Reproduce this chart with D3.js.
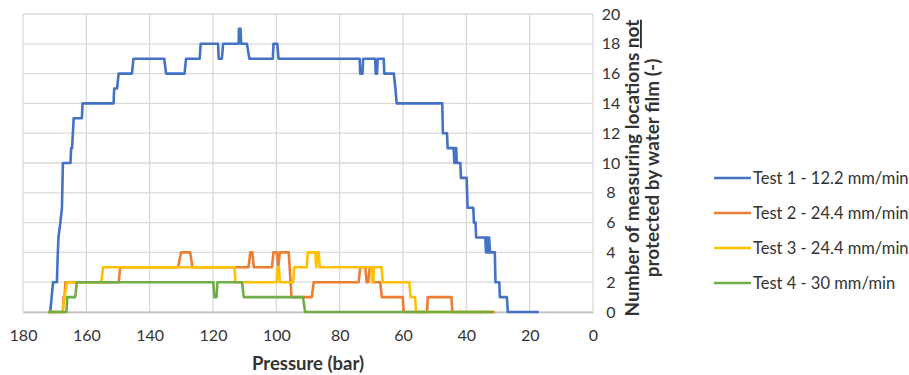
<!DOCTYPE html>
<html>
<head>
<meta charset="utf-8">
<script src="https://cdn.jsdelivr.net/npm/d3@7"></script>
<style>
  body { margin: 0; background: #fff; }
  svg { font-family: Lato, "Open Sans", sans-serif; }
</style>
</head>
<body>
<div id="chart"></div>
<script>
// [pressure (bar), count]
var test1 = [[172.0,0],[171.4,0],[170.5,2],[169.3,2],[169.0,4],[168.8,5],[168.2,6],[167.7,7],[167.4,10],
  [165.0,10],[164.8,11],[164.5,11],[164.0,13],[161.4,13],[161.2,14],[151.4,14],[151.2,15],[150.3,15],
  [149.8,16],[145.6,16],[145.1,17],[135.4,17],[134.8,16],[129.0,16],[128.5,17],[124.2,17],[123.9,18],
  [118.4,18],[118.2,17],[117.2,17],[116.8,18],[111.9,18],[111.8,19],[111.3,19],[111.1,18],[109.3,18],
  [108.5,17],[101.1,17],[100.9,18],[99.7,18],[99.3,17],[73.7,17],[73.5,16],[72.8,16],[72.6,17],
  [68.8,17],[68.6,16],[68.2,16],[68.0,17],[66.1,17],[65.9,16],[62.9,16],[62.4,15],[62.0,14],
  [47.6,14],[47.4,12],[46.1,12],[45.9,11],[44.0,11],[43.8,10],[43.6,11],[43.4,10],[43.2,11],[43.0,10],
  [41.9,10],[41.7,9],[39.9,9],[39.6,7],[37.8,7],[37.6,6],[37.1,6],[36.9,5],[34.0,5],[33.8,4],[33.6,5],
  [33.4,4],[33.2,5],[33.0,4],[32.8,5],[32.5,4],[31.0,4],[30.8,2],[29.6,2],[29.4,1],[27.2,1],[26.9,0],[17.1,0]];

var test2 = [[172.0,0],[167.4,0],[167.2,1],[166.9,1],[166.6,2],[149.8,2],[149.3,3],[131.0,3],[130.1,4],
  [127.2,4],[126.5,3],[108.8,3],[108.2,4],[107.6,4],[107.1,3],[101.4,3],[100.9,4],[99.8,4],[99.4,3],
  [98.9,4],[96.1,4],[95.2,1],[88.8,1],[88.2,2],[74.0,2],[73.5,3],[71.9,3],[71.5,2],[71.0,2],[70.5,3],
  [69.8,3],[69.4,2],[67.2,2],[66.7,1],[60.1,1],[59.8,0],[52.4,0],[52.2,1],[44.7,1],[44.4,0],[31.0,0]];

var test3 = [[172.0,0],[167.6,0],[166.1,2],[155.3,2],[154.7,3],[113.2,3],[112.9,2],[99.9,2],[99.6,3],
  [99.2,3],[98.9,2],[94.7,2],[94.4,3],[90.4,3],[90.1,4],[87.7,4],[87.4,3],[87.1,4],[86.6,4],[86.3,3],
  [70.0,3],[69.8,2],[69.4,2],[69.2,3],[66.8,3],[66.4,2],[58.0,2],[57.6,1],[56.2,1],[55.9,0],[31.5,0]];

var test4 = [[172.0,0],[166.3,0],[166.0,1],[163.5,1],[163.0,2],[119.9,2],[119.6,1],[118.9,1],[118.6,2],
  [110.8,2],[110.3,1],[91.6,1],[90.9,0],[31.5,0]];

var seriesNames = ["Test 1 - 12.2 mm/min", "Test 2 - 24.4 mm/min", "Test 3 - 24.4 mm/min", "Test 4 - 30 mm/min"];
var seriesColors = ["#4472C4", "#ED7D31", "#FFC000", "#70AD47"];
var xTicks = [180, 160, 140, 120, 100, 80, 60, 40, 20, 0];
var yTicks = [0, 2, 4, 6, 8, 10, 12, 14, 16, 18, 20];

var svgWidth = 909, svgHeight = 375;
var plotLeft = 23, plotRight = 593, plotTop = 14, plotBottom = 312;

var svg = d3.select('#chart').append('svg')
    .attr('width', svgWidth)
    .attr('height', svgHeight);

var x = d3.scaleLinear().domain([180, 0]).range([plotLeft, plotRight]);
var y = d3.scaleLinear().domain([0, 20]).range([plotBottom, plotTop]);

// grid
svg.append('g').selectAll('line')
    .data(xTicks).enter().append('line')
    .attr('x1', function(d) { return x(d); })
    .attr('x2', function(d) { return x(d); })
    .attr('y1', plotTop).attr('y2', plotBottom)
    .attr('stroke', '#D9D9D9').attr('stroke-width', 1.3);
svg.append('g').selectAll('line')
    .data(yTicks).enter().append('line')
    .attr('x1', plotLeft).attr('x2', plotRight)
    .attr('y1', function(d) { return y(d); })
    .attr('y2', function(d) { return y(d); })
    .attr('stroke', '#D9D9D9').attr('stroke-width', 1.3);

// x axis
var xAxis = svg.append('g')
    .attr('transform', 'translate(0,' + plotBottom + ')')
    .call(d3.axisBottom(x).tickValues(xTicks).tickSize(0).tickPadding(18));
xAxis.select('.domain').attr('stroke', '#BFBFBF').attr('stroke-width', 1.3);
xAxis.selectAll('text').attr('font-size', 16).attr('fill', '#333')
    .attr('font-family', 'Lato, sans-serif');

// y axis on the right
var yAxis = svg.append('g')
    .attr('transform', 'translate(' + plotRight + ',0)')
    .call(d3.axisRight(y).tickValues(yTicks).tickSize(0).tickPadding(18));
yAxis.select('.domain').remove();
yAxis.selectAll('text').attr('font-size', 16).attr('fill', '#333')
    .attr('text-anchor', 'middle').attr('font-family', 'Lato, sans-serif');

// lines
var line = d3.line()
    .x(function(d) { return x(d[0]); })
    .y(function(d) { return y(d[1]); });

var allSeries = [test1, test2, test3, test4];
svg.append('g').selectAll('path')
    .data(allSeries).enter().append('path')
    .attr('d', line)
    .attr('fill', 'none')
    .attr('stroke', function(d, i) { return seriesColors[i]; })
    .attr('stroke-width', 2.6)
    .attr('stroke-linejoin', 'round');

// axis titles
svg.append('text')
    .attr('x', (plotLeft + plotRight) / 2)
    .attr('y', 370)
    .attr('text-anchor', 'middle')
    .attr('font-size', 18.5)
    .attr('font-weight', 'bold')
    .attr('fill', '#333')
    .text('Pressure (bar)');

var yTitle = svg.append('text')
    .attr('transform', 'translate(639,168) rotate(-90)')
    .attr('text-anchor', 'middle')
    .attr('font-size', 19)
    .attr('font-weight', 'bold')
    .attr('fill', '#333');
yTitle.append('tspan').text('Number of measuring locations ');
yTitle.append('tspan').attr('text-decoration', 'underline').text('not');
svg.append('text')
    .attr('transform', 'translate(659,168) rotate(-90)')
    .attr('text-anchor', 'middle')
    .attr('font-size', 19)
    .attr('font-weight', 'bold')
    .attr('fill', '#333')
    .text('protected by water film (-)');

// legend
var legend = svg.append('g').selectAll('g')
    .data(seriesNames).enter().append('g')
    .attr('transform', function(d, i) { return 'translate(714,' + (178 + i * 35) + ')'; });
legend.append('line')
    .attr('x1', 0).attr('x2', 37)
    .attr('stroke', function(d, i) { return seriesColors[i]; })
    .attr('stroke-width', 2.6);
legend.append('text')
    .attr('x', 39).attr('dy', '0.35em')
    .attr('font-size', 16.5)
    .attr('fill', '#333')
    .text(function(d) { return d; });
</script>
</body>
</html>
